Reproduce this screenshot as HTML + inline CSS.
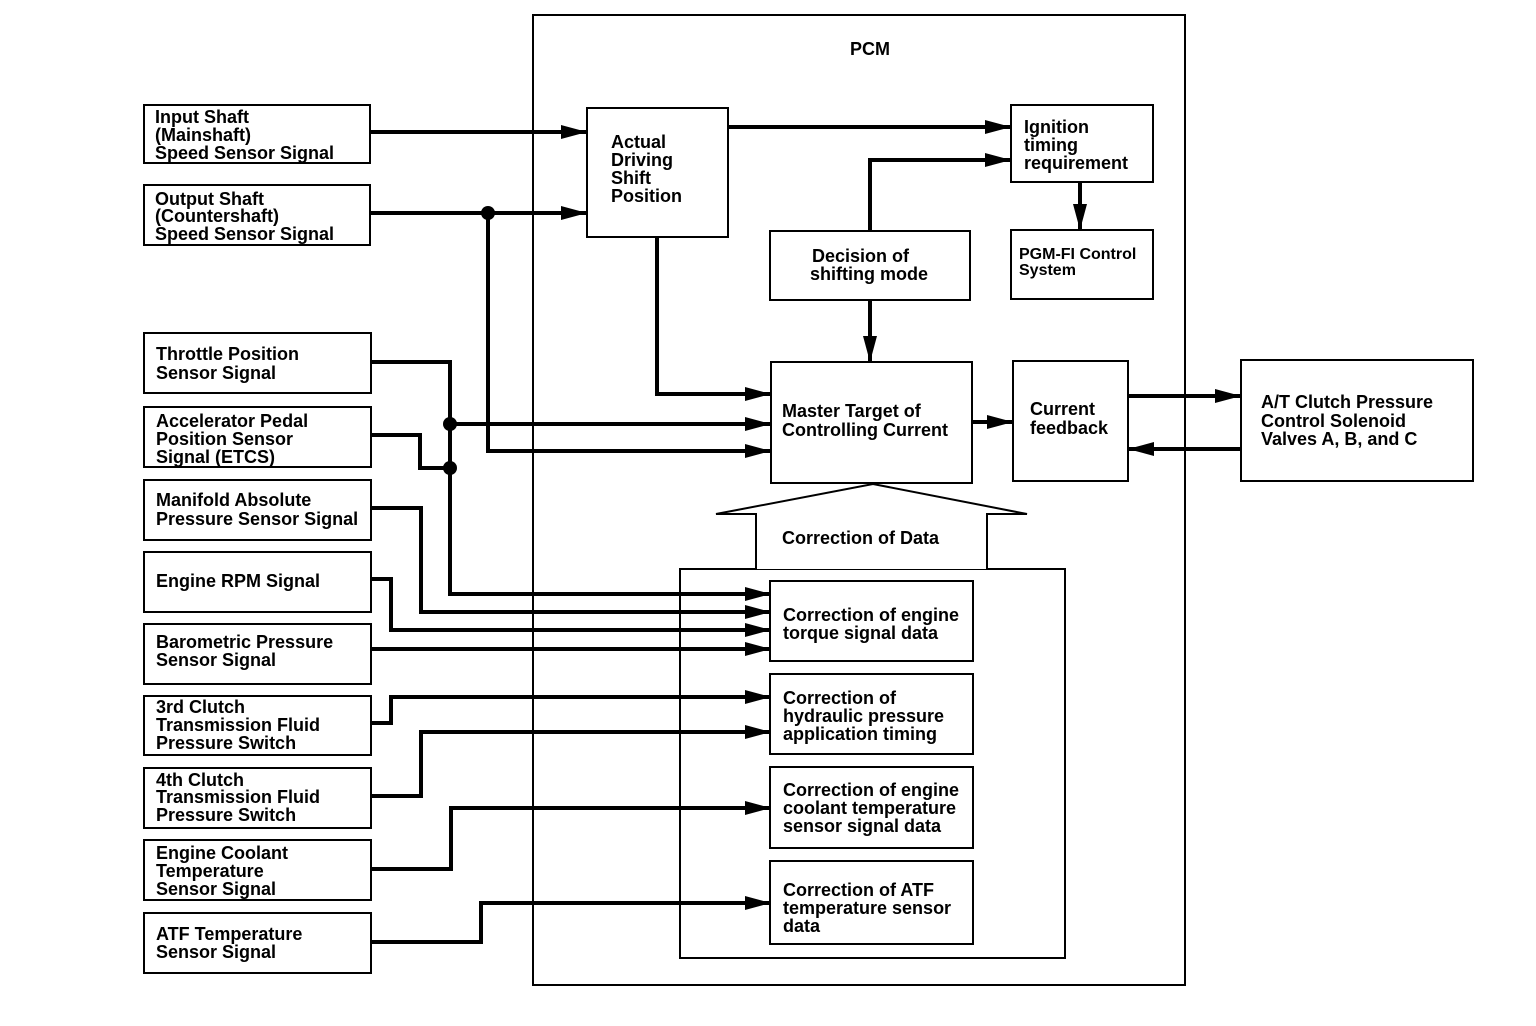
<!DOCTYPE html>
<html><head><meta charset="utf-8"><style>
html,body{margin:0;padding:0;background:#fff;}
svg{display:block}
text{font-family:"Liberation Sans",Arial,sans-serif;font-weight:bold;font-size:18px;fill:#000}
</style></head><body>
<svg width="1536" height="1026" viewBox="0 0 1536 1026" xmlns="http://www.w3.org/2000/svg">
<defs><marker id="a" markerWidth="26" markerHeight="14" refX="26" refY="7" orient="auto" markerUnits="userSpaceOnUse"><path d="M0,0 L26,7 L0,14 Z" fill="#000"/></marker></defs>
<g fill="none" stroke="#000" stroke-width="2">
<rect x="533" y="15" width="652" height="970"/>
<rect x="144" y="105" width="226" height="58"/>
<rect x="144" y="185" width="226" height="60"/>
<rect x="144" y="333" width="227" height="60"/>
<rect x="144" y="407" width="227" height="60"/>
<rect x="144" y="480" width="227" height="60"/>
<rect x="144" y="552" width="227" height="60"/>
<rect x="144" y="624" width="227" height="60"/>
<rect x="144" y="696" width="227" height="59"/>
<rect x="144" y="768" width="227" height="60"/>
<rect x="144" y="840" width="227" height="60"/>
<rect x="144" y="913" width="227" height="60"/>
<rect x="587" y="108" width="141" height="129"/>
<rect x="1011" y="105" width="142" height="77"/>
<rect x="1011" y="230" width="142" height="69"/>
<rect x="770" y="231" width="200" height="69"/>
<rect x="771" y="362" width="201" height="121"/>
<rect x="1013" y="361" width="115" height="120"/>
<rect x="1241" y="360" width="232" height="121"/>
<rect x="680" y="569" width="385" height="389"/>
<rect x="770" y="581" width="203" height="80"/>
<rect x="770" y="674" width="203" height="80"/>
<rect x="770" y="767" width="203" height="81"/>
<rect x="770" y="861" width="203" height="83"/>
<path d="M756,569 V514 H716 L873,484 L1027,514 H987 V569" fill="#fff"/>
</g>
<g fill="none" stroke="#000" stroke-width="4" marker-end="url(#a)">
<path d="M370,132 H587"/>
<path d="M370,213 H587"/>
<path d="M488,213 V451 H771"/>
<path d="M728,127 H1011"/>
<path d="M870,231 V160 H1011"/>
<path d="M1080,182 V230"/>
<path d="M870,300 V362"/>
<path d="M657,237 V394 H771"/>
<path d="M371,362 H450 V424 H771"/>
<path d="M450,424 V594 H771"/>
<path d="M371,508 H421 V612 H771"/>
<path d="M371,579 H391 V630 H771"/>
<path d="M371,649 H771"/>
<path d="M371,723 H391 V697 H771"/>
<path d="M371,796 H421 V732 H771"/>
<path d="M371,869 H451 V808 H771"/>
<path d="M371,942 H481 V903 H771"/>
<path d="M972,422 H1013"/>
<path d="M1128,396 H1241"/>
<path d="M1241,449 H1128"/>
</g>
<path d="M371,435 H420 V468 H450" fill="none" stroke="#000" stroke-width="4"/>
<circle cx="488" cy="213" r="7"/><circle cx="450" cy="424" r="7"/><circle cx="450" cy="468" r="7"/>
<text x="850" y="55">PCM</text>
<text x="155" y="123">Input Shaft</text><text x="155" y="141">(Mainshaft)</text><text x="155" y="159">Speed Sensor Signal</text>
<text x="155" y="205">Output Shaft</text><text x="155" y="222">(Countershaft)</text><text x="155" y="240">Speed Sensor Signal</text>
<text x="156" y="360">Throttle Position</text><text x="156" y="379">Sensor Signal</text>
<text x="156" y="427">Accelerator Pedal</text><text x="156" y="445">Position Sensor</text><text x="156" y="463">Signal (ETCS)</text>
<text x="156" y="506">Manifold Absolute</text><text x="156" y="525">Pressure Sensor Signal</text>
<text x="156" y="587">Engine RPM Signal</text>
<text x="156" y="648">Barometric Pressure</text><text x="156" y="666">Sensor Signal</text>
<text x="156" y="713">3rd Clutch</text><text x="156" y="731">Transmission Fluid</text><text x="156" y="749">Pressure Switch</text>
<text x="156" y="786">4th Clutch</text><text x="156" y="803">Transmission Fluid</text><text x="156" y="821">Pressure Switch</text>
<text x="156" y="859">Engine Coolant</text><text x="156" y="877">Temperature</text><text x="156" y="895">Sensor Signal</text>
<text x="156" y="940">ATF Temperature</text><text x="156" y="958">Sensor Signal</text>
<text x="611" y="148">Actual</text><text x="611" y="166">Driving</text><text x="611" y="184">Shift</text><text x="611" y="202">Position</text>
<text x="1024" y="133">Ignition</text><text x="1024" y="151">timing</text><text x="1024" y="169">requirement</text>
<text x="1019" y="259" style="font-size:16px">PGM-FI Control</text><text x="1019" y="275" style="font-size:16px">System</text>
<text x="812" y="262">Decision of</text><text x="810" y="280">shifting mode</text>
<text x="782" y="417">Master Target of</text><text x="782" y="436">Controlling Current</text>
<text x="1030" y="415">Current</text><text x="1030" y="434">feedback</text>
<text x="1261" y="408">A/T Clutch Pressure</text><text x="1261" y="427">Control Solenoid</text><text x="1261" y="445">Valves A, B, and C</text>
<text x="782" y="544">Correction of Data</text>
<text x="783" y="621">Correction of engine</text><text x="783" y="639">torque signal data</text>
<text x="783" y="704">Correction of</text><text x="783" y="722">hydraulic pressure</text><text x="783" y="740">application timing</text>
<text x="783" y="796">Correction of engine</text><text x="783" y="814">coolant temperature</text><text x="783" y="832">sensor signal data</text>
<text x="783" y="896">Correction of ATF</text><text x="783" y="914">temperature sensor</text><text x="783" y="932">data</text>
</svg>
</body></html>
